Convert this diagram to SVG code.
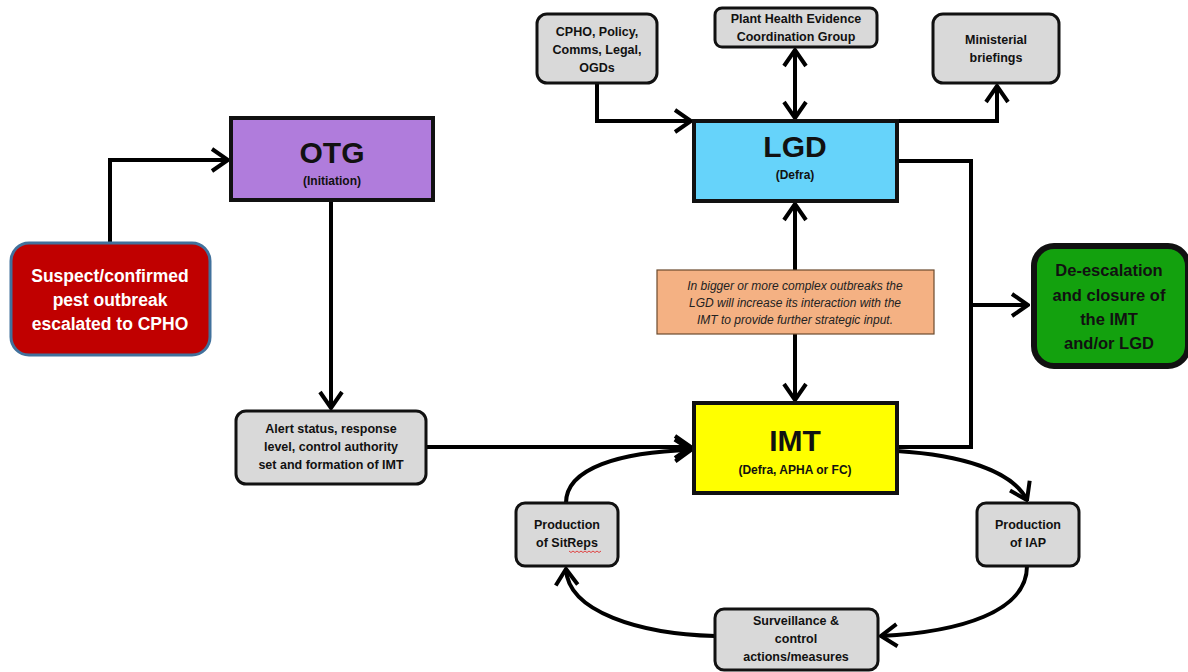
<svg xmlns="http://www.w3.org/2000/svg" width="1188" height="672" viewBox="0 0 1188 672">
<defs>
<marker id="arr" viewBox="-20 -14 22 28" refX="0" refY="0" markerWidth="22" markerHeight="28" markerUnits="userSpaceOnUse" orient="auto">
<path d="M-16,-11 L0,0 L-16,11" fill="none" stroke="#000" stroke-width="4" stroke-linejoin="miter"/>
</marker>
<marker id="arrs" viewBox="-20 -14 22 28" refX="0" refY="0" markerWidth="22" markerHeight="28" markerUnits="userSpaceOnUse" orient="auto-start-reverse">
<path d="M-16,-11 L0,0 L-16,11" fill="none" stroke="#000" stroke-width="4" stroke-linejoin="miter"/>
</marker>
</defs>
<style>
.t{font-family:"Liberation Sans",Arial,sans-serif;font-weight:bold;text-anchor:middle;dominant-baseline:central;fill:#111}
.s{font-size:12.5px}
.big{font-size:30px}
.sub{font-size:12px}
.gray{fill:#d9d9d9;stroke:#111;stroke-width:3}
.main{stroke:#111;stroke-width:4}
.c{fill:none;stroke:#000;stroke-width:4}
.note{font-family:"Liberation Sans",Arial,sans-serif;font-style:italic;font-size:12px;text-anchor:middle;dominant-baseline:central;fill:#222}
</style>
<rect width="1188" height="672" fill="#fff"/>

<g id="connectors">
<path class="c" d="M110,243 V160 H228" marker-end="url(#arr)"/>
<path class="c" d="M331,200 V408" marker-end="url(#arr)"/>
<path class="c" d="M426,447 H691" marker-end="url(#arr)"/>
<path class="c" d="M597,83 V121 H691" marker-end="url(#arr)"/>
<path class="c" d="M795,50 V118" marker-start="url(#arrs)" marker-end="url(#arr)"/>
<path class="c" d="M897,121 H997 V86" marker-end="url(#arr)"/>
<path class="c" d="M897,161 H971 V447 H897"/>
<path class="c" d="M971,305 H1028" marker-end="url(#arr)"/>
<path class="c" d="M795,270 V204" marker-end="url(#arr)"/>
<path class="c" d="M795,334 V400" marker-end="url(#arr)"/>
<path class="c" d="M897,451 C960,455 1012,470 1027,500" marker-end="url(#arr)"/>
<path class="c" d="M1027,566 C1027,612 960,632 881,636" marker-end="url(#arr)"/>
<path class="c" d="M715,636 C640,634 568,612 566,569" marker-end="url(#arr)"/>
<path class="c" d="M566,503 C566,468 620,452 691,450" marker-end="url(#arr)"/>
</g>

<g id="cpho">
<rect class="gray" x="537" y="14" width="120" height="69" rx="10"/>
<text class="t s" x="597" y="32">CPHO, Policy,</text>
<text class="t s" x="597" y="50">Comms, Legal,</text>
<text class="t s" x="597" y="68">OGDs</text>
</g>
<g id="phecg">
<rect class="gray" x="715" y="8" width="162" height="39" rx="7"/>
<text class="t s" x="796" y="19">Plant Health Evidence</text>
<text class="t s" x="796" y="37">Coordination Group</text>
</g>
<g id="ministerial">
<rect class="gray" x="933" y="14" width="126" height="69" rx="10"/>
<text class="t s" x="996" y="40">Ministerial</text>
<text class="t s" x="996" y="58">briefings</text>
</g>
<g id="lgd">
<rect class="main" x="694" y="121" width="203" height="80" fill="#66d3fa"/>
<text class="t big" x="795" y="146">LGD</text>
<text class="t sub" x="795" y="175">(Defra)</text>
</g>
<g id="otg">
<rect class="main" x="231" y="118" width="202" height="82" fill="#b07cdc"/>
<text class="t big" x="332" y="152">OTG</text>
<text class="t sub" x="332" y="181">(Initiation)</text>
</g>
<g id="suspect">
<rect x="11" y="243" width="199" height="112" rx="18" fill="#c00000" stroke="#41719c" stroke-width="3"/>
<text class="t" style="font-size:17.5px;fill:#fff" x="110" y="276">Suspect/confirmed</text>
<text class="t" style="font-size:17.5px;fill:#fff" x="110" y="300">pest outbreak</text>
<text class="t" style="font-size:17.5px;fill:#fff" x="110" y="324">escalated to CPHO</text>
</g>
<g id="note">
<rect x="657" y="270" width="277" height="64" fill="#f4b183" stroke="#6b4a2e" stroke-width="1.2"/>
<text class="note" x="795" y="286">In bigger or more complex outbreaks the</text>
<text class="note" x="795" y="303">LGD will increase its interaction with the</text>
<text class="note" x="795" y="320">IMT to provide further strategic input.</text>
</g>
<g id="deescalation">
<rect x="1034" y="246" width="154" height="120" rx="20" fill="#13a10e" stroke="#111" stroke-width="6"/>
<text class="t" style="font-size:16.5px" x="1109" y="270">De-escalation</text>
<text class="t" style="font-size:16.5px" x="1109" y="295">and closure of</text>
<text class="t" style="font-size:16.5px" x="1109" y="319">the IMT</text>
<text class="t" style="font-size:16.5px" x="1109" y="343">and/or LGD</text>
</g>
<g id="alert">
<rect class="gray" x="236" y="411" width="190" height="73" rx="10"/>
<text class="t s" x="331" y="429">Alert status, response</text>
<text class="t s" x="331" y="447">level, control authority</text>
<text class="t s" x="331" y="465">set and formation of IMT</text>
</g>
<g id="imt">
<rect class="main" x="694" y="403" width="203" height="90" fill="#ffff00"/>
<text class="t big" x="795" y="440">IMT</text>
<text class="t sub" x="795" y="470">(Defra, APHA or FC)</text>
</g>
<g id="sitreps">
<rect class="gray" x="516" y="503" width="102" height="63" rx="9"/>
<text class="t s" x="567" y="525">Production</text>
<text class="t s" x="567" y="543">of SitReps</text>
<path d="M569,551 l2,1.5 l2,-1.5 l2,1.5 l2,-1.5 l2,1.5 l2,-1.5 l2,1.5 l2,-1.5 l2,1.5 l2,-1.5 l2,1.5 l2,-1.5 l2,1.5 l2,-1.5 l2,1.5 l2,-1.5" fill="none" stroke="#e03030" stroke-width="0.9"/>
</g>
<g id="iap">
<rect class="gray" x="977" y="503" width="102" height="63" rx="9"/>
<text class="t s" x="1028" y="525">Production</text>
<text class="t s" x="1028" y="543">of IAP</text>
</g>
<g id="surveillance">
<rect class="gray" x="715" y="609" width="163" height="61" rx="9"/>
<text class="t s" x="796" y="621">Surveillance &amp;</text>
<text class="t s" x="796" y="639">control</text>
<text class="t s" x="796" y="657">actions/measures</text>
</g>
</svg>
